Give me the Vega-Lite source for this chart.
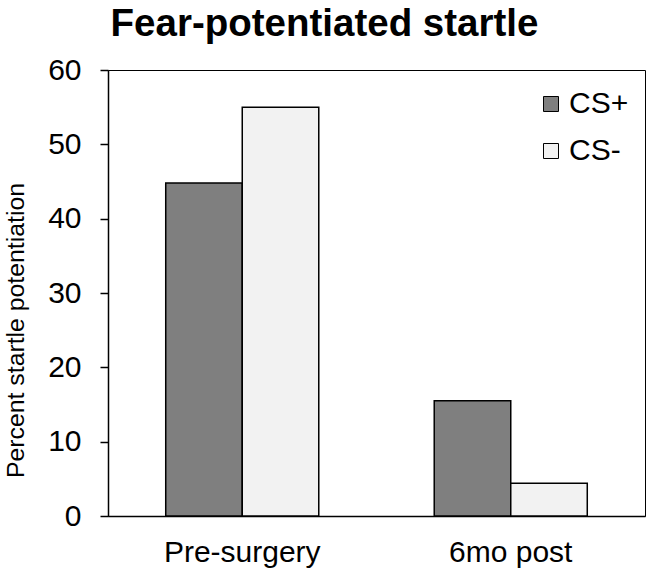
{
  "$schema": "https://vega.github.io/schema/vega-lite/v6.json",
  "width": 537,
  "height": 446,
  "autosize": {"type": "none"},
  "padding": {"left": 108, "top": 70, "right": 5, "bottom": 57},
  "background": "white",
  "title": {
    "text": "Fear-potentiated startle",
    "font": "Liberation Sans",
    "fontSize": 38.5,
    "fontWeight": "bold",
    "color": "black",
    "anchor": "middle",
    "frame": "group",
    "baseline": "alphabetic",
    "offset": 0,
    "dy": 19,
    "dx": -52
  },
  "config": {
    "font": "Liberation Sans",
    "view": {"stroke": "black", "strokeWidth": 1}
  },
  "data": {
    "values": [
      {"time": "Pre-surgery", "cs": "CS+", "value": 44.8},
      {"time": "Pre-surgery", "cs": "CS-", "value": 55.0},
      {"time": "6mo post", "cs": "CS+", "value": 15.5},
      {"time": "6mo post", "cs": "CS-", "value": 4.4}
    ]
  },
  "mark": {"type": "bar", "stroke": "black", "strokeWidth": 1.5},
  "encoding": {
    "x": {
      "field": "time",
      "type": "nominal",
      "sort": ["Pre-surgery", "6mo post"],
      "scale": {"paddingInner": 0.43, "paddingOuter": 0.215},
      "axis": {
        "title": null,
        "labelAngle": 0,
        "labelFontSize": 30,
        "labelColor": "black",
        "labelPadding": 21,
        "ticks": false,
        "domainColor": "black",
        "domainWidth": 1.5
      }
    },
    "xOffset": {
      "field": "cs",
      "type": "nominal",
      "sort": ["CS+", "CS-"],
      "scale": {"paddingInner": 0, "paddingOuter": 0}
    },
    "y": {
      "field": "value",
      "type": "quantitative",
      "scale": {"domain": [0, 60], "nice": false},
      "axis": {
        "title": "Percent startle potentiation",
        "titleFontSize": 24.8,
        "titleFontWeight": "normal",
        "titleColor": "black",
        "titleAngle": -90,
        "titleAlign": "center",
        "titleBaseline": "alphabetic",
        "titleX": -85,
        "titleY": 260,
        "values": [0, 10, 20, 30, 40, 50, 60],
        "grid": false,
        "tickSize": 8,
        "tickColor": "black",
        "tickWidth": 1.5,
        "domainColor": "black",
        "domainWidth": 1.5,
        "labelFontSize": 30,
        "labelColor": "black",
        "labelPadding": 19
      }
    },
    "fill": {
      "field": "cs",
      "type": "nominal",
      "sort": ["CS+", "CS-"],
      "scale": {"domain": ["CS+", "CS-"], "range": ["#7f7f7f", "#f2f2f2"]},
      "legend": {
        "title": null,
        "orient": "none",
        "legendX": 428,
        "legendY": 19,
        "padding": 0,
        "symbolType": "square",
        "symbolSize": 225,
        "symbolStrokeColor": "black",
        "symbolStrokeWidth": 1,
        "labelFontSize": 30,
        "labelColor": "black",
        "labelOffset": 3,
        "rowPadding": 17
      }
    }
  }
}
